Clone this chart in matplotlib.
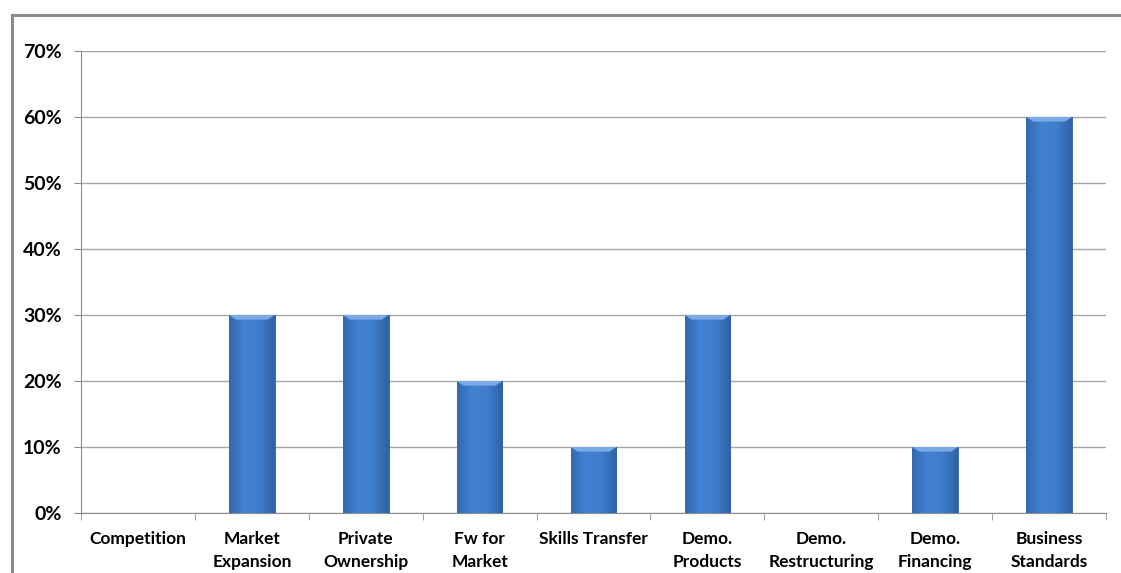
import matplotlib.pyplot as plt
import numpy as np
from matplotlib.patches import Rectangle, Polygon
from matplotlib.ticker import PercentFormatter
from matplotlib.colors import LinearSegmentedColormap

categories = ['Competition', 'Market\nExpansion', 'Private\nOwnership', 'Fw for\nMarket',
              'Skills Transfer', 'Demo.\nProducts', 'Demo.\nRestructuring', 'Demo.\nFinancing',
              'Business\nStandards']
values = [0, 30, 30, 20, 10, 30, 0, 10, 60]
y_ticks = [0, 10, 20, 30, 40, 50, 60, 70]

plt.rcParams['font.family'] = ['Lato', 'DejaVu Sans']

fig = plt.figure(figsize=(11.21, 5.73), dpi=100)
ax = fig.add_axes([81 / 1121, 1 - 513 / 573, (1106 - 81) / 1121, (513 - 51) / 573])

# outer chart frame (cut off at right and bottom like the original)
fig.patches.append(Rectangle((12 / 1121, -0.05), 1.2, 1 - 15 / 573 + 0.05,
                             transform=fig.transFigure, fill=False,
                             edgecolor='#8c8c8c', linewidth=2.2))

x = np.arange(len(categories))
bars = ax.bar(x, values, width=0.4, color='#3b78c8', edgecolor='#2d5f9e', linewidth=0.6, zorder=3)

# horizontal gradient + top bevel on each bar
grad = np.linspace(0, 1, 64).reshape(1, -1)
cmap = LinearSegmentedColormap.from_list('bar', ['#3369b0', '#4282d2', '#3f7dcb', '#2f62a6'])
for b in bars:
    h = b.get_height()
    if h <= 0:
        continue
    x0, w = b.get_x(), b.get_width()
    im = ax.imshow(grad, extent=[x0, x0 + w, 0, h], aspect='auto', cmap=cmap, zorder=3.5)
    im.set_clip_path(b)
    bev = 0.7
    ax.add_patch(Polygon([[x0, h], [x0 + w, h], [x0 + w * 0.85, h - bev], [x0 + w * 0.15, h - bev]],
                         closed=True, facecolor='#79aae6', edgecolor='none', zorder=4))

ax.set_xlim(-0.5, len(categories) - 0.5)
ax.set_ylim(0, 70)
ax.set_yticks(y_ticks)
ax.yaxis.set_major_formatter(PercentFormatter(decimals=0))
ax.grid(axis='y', color='#a6a6a6', linewidth=1, zorder=0)

ax.set_xticks(x)
ax.set_xticklabels(categories, fontsize=12.5, fontweight='bold', linespacing=1.55)
ax.set_xticks(np.arange(len(categories) + 1) - 0.5, minor=True)
ax.tick_params(axis='x', which='major', length=0, pad=13)
ax.tick_params(axis='x', which='minor', length=5, color='#8c8c8c')
ax.tick_params(axis='y', length=5, color='#8c8c8c', labelsize=14, pad=9)
for lab in ax.get_yticklabels():
    lab.set_fontweight('bold')

for side in ['top', 'right']:
    ax.spines[side].set_visible(False)
ax.spines['left'].set_color('#8c8c8c')
ax.spines['bottom'].set_color('#8c8c8c')

fig.savefig('out.png', dpi=100)
